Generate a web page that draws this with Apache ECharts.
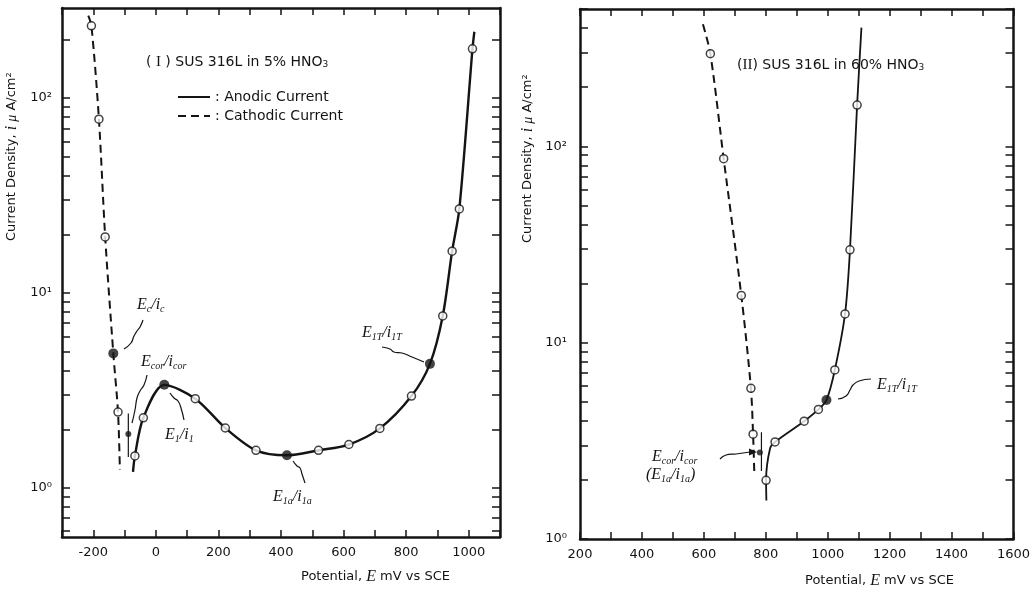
<!DOCTYPE html>
<html>
<head>
<meta charset="utf-8">
<script src="https://cdn.jsdelivr.net/npm/echarts@6/dist/echarts.min.js"></script>
<style>
  html, body { margin: 0; padding: 0; background: #fff; }
  #main { width: 1033px; height: 596px; }
</style>
</head>
<body>
<div id="main"></div>
<script>
// (I) SUS 316L in 5% HNO3  -- potential mV vs SCE, current density uA/cm2
const cathI_E = [-216, -206, -182, -162, -136, -121, -115];
const cathI_i = [265, 235, 78, 19.4, 4.9, 2.45, 1.24];
const cathI_mark = ['', 'o', 'o', 'o', '●', 'o', ''];

const anodI_E = [-73, -67, -40, 27, 126, 222, 320, 419, 520, 617, 716, 817, 876, 917, 947, 970, 1012, 1018];
const anodI_i = [1.21, 1.46, 2.29, 3.38, 2.87, 2.03, 1.56, 1.47, 1.56, 1.67, 2.02, 2.96, 4.33, 7.63, 16.4, 27, 179, 219];
const anodI_mark = ['', 'o', 'o', '●', 'o', 'o', 'o', '●', 'o', 'o', 'o', 'o', '●', 'o', 'o', 'o', 'o', ''];

const corI_E = [-88, -88];
const corI_i = [1.44, 2.41];
const corI_point = [-88, 1.89];

// (II) SUS 316L in 60% HNO3
const cathII_E = [597, 621, 664, 721, 752, 759, 763];
const cathII_i = [418, 296, 86.5, 17.4, 5.85, 3.42, 2.16];
const cathII_mark = ['', 'o', 'o', 'o', 'o', 'o', ''];

const anodII_E = [802, 801, 814, 830, 924, 970, 996, 1023, 1056, 1072, 1095, 1109];
const anodII_i = [1.57, 1.99, 2.9, 3.12, 3.98, 4.57, 5.10, 7.26, 14.0, 29.7, 162, 402];
const anodII_mark = ['', 'o', '', 'o', 'o', 'o', '●', 'o', 'o', 'o', 'o', ''];

const corII_E = [786, 786];
const corII_i = [2.22, 3.5];
const corII_point = [781, 2.76];

// axis ticks
const xLabelsI = [-200, 0, 200, 400, 600, 800, 1000];
const xLabelsII = [200, 400, 600, 800, 1000, 1200, 1400, 1600];
const yLabels = [1, 10, 100];
const yTicksI = [0.6, 0.7, 0.8, 0.9, 1, 2, 3, 4, 5, 6, 7, 8, 9, 10, 20, 30, 40, 50, 60, 70, 80, 90, 100, 200];
const yTicksII = [1, 2, 3, 4, 5, 6, 7, 8, 9, 10, 20, 30, 40, 50, 60, 70, 80, 90, 100, 200, 300, 400, 500];

const INK = '#141414';
const SANS = 'DejaVu Sans';
const SERIF = 'Liberation Serif';

const pts = (E, I) => E.map((e, k) => [e, I[k]]);
const pick = (E, I, M, kind) => pts(E, I).filter((_, k) => M[k] === kind);

const supLabel = v => ({ 0: '10⁰', 1: '10¹', 2: '10²' })[Math.round(Math.log10(v))];

function xAxes(grid, min, max, labels) {
  const base = {
    gridIndex: grid, type: 'value', min: min, max: max, interval: 100,
    splitLine: { show: false },
    axisLine: { show: true, onZero: false, lineStyle: { color: INK, width: 2.5 } },
    axisTick: { show: true, inside: true, length: 7, lineStyle: { color: INK, width: 1.5 } }
  };
  return [
    Object.assign({}, base, {
      position: 'bottom',
      axisLabel: { customValues: labels, formatter: v => String(v), color: INK, fontFamily: SANS, fontSize: 13, margin: 9 }
    }),
    Object.assign({}, base, { position: 'top', axisLabel: { show: false } })
  ];
}

function yAxes(grid, min, max, ticks, margin) {
  const base = {
    gridIndex: grid, type: 'log', logBase: 10, min: min, max: max,
    splitLine: { show: false }, minorTick: { show: false },
    axisLine: { show: true, onZero: false, lineStyle: { color: INK, width: 2.5 } },
    axisTick: { show: true, inside: true, length: 8, customValues: ticks, lineStyle: { color: INK, width: 1.5 } }
  };
  return [
    Object.assign({}, base, {
      position: 'left',
      axisLabel: { customValues: yLabels, formatter: supLabel, color: INK, fontFamily: SANS, fontSize: 13, margin: margin }
    }),
    Object.assign({}, base, { position: 'right', axisLabel: { show: false } })
  ];
}

function curve(name, data, xi, yi, dashed, width) {
  return {
    name: name, type: 'line', data: data, xAxisIndex: xi, yAxisIndex: yi,
    symbol: 'none', smooth: 0.3, z: 3, silent: true, color: INK,
    lineStyle: { color: INK, width: width, type: dashed ? [8, 5] : 'solid' }
  };
}

function marks(data, xi, yi, filled, size) {
  return {
    type: 'scatter', data: data, xAxisIndex: xi, yAxisIndex: yi,
    symbol: 'circle', symbolSize: size, z: 6, silent: true,
    itemStyle: filled ? { color: INK } : { color: '#fff', borderColor: INK, borderWidth: 1.5 }
  };
}

// annotation text helpers
const annRich = {
  E: { fontFamily: SERIF, fontStyle: 'italic', fontSize: 16, fill: INK, lineHeight: 18 },
  s: { fontFamily: SERIF, fontStyle: 'italic', fontSize: 10, fill: INK, verticalAlign: 'bottom', lineHeight: 10 }
};
function ann(x, y, text) {
  return { type: 'text', x: x, y: y, z: 20, style: { text: text, rich: annRich, align: 'left', verticalAlign: 'middle' } };
}
function leader(points) {
  return { type: 'polyline', z: 20, shape: { points: points, smooth: 0.5 }, style: { stroke: INK, lineWidth: 1.2, fill: null } };
}
function plain(x, y, text, extra) {
  return Object.assign({
    type: 'text', x: x, y: y, z: 20,
    style: {
      text: text, fontFamily: SANS, fontSize: 13, fill: INK, align: 'left', verticalAlign: 'middle',
      rich: {
        n: { fontFamily: SANS, fontSize: 14, fill: INK },
        r: { fontFamily: SERIF, fontSize: 15, fill: INK },
        sub: { fontFamily: SANS, fontSize: 9, fill: INK, verticalAlign: 'bottom', lineHeight: 9 },
        it: { fontFamily: SERIF, fontStyle: 'italic', fontSize: 16, fill: INK },
        g: { fontFamily: SERIF, fontStyle: 'italic', fontSize: 14, fill: INK },
        t: { fontFamily: SANS, fontSize: 13, fill: INK }
      }
    }
  }, extra || {});
}

const chart = echarts.init(document.getElementById('main'));

const option = {
  animation: false,
  backgroundColor: '#fff',
  grid: [
    { left: 62, top: 8, width: 438, height: 529 },
    { left: 580, top: 9, width: 435, height: 530 }
  ],
  xAxis: xAxes(0, -300, 1100, xLabelsI).concat(xAxes(1, 200, 1600, xLabelsII)),
  yAxis: yAxes(0, 0.56, 290, yTicksI, 10).concat(yAxes(1, 1, 500, yTicksII, 13)),
  legend: {
    data: ['Anodic Current', 'Cathodic Current'],
    orient: 'vertical', left: 172, top: 85,
    itemWidth: 32, itemHeight: 14, itemGap: 5, selectedMode: false,
    formatter: ': {name}',
    itemStyle: { opacity: 0 },
    textStyle: { fontFamily: SANS, fontSize: 14, color: INK }
  },
  series: [
    curve('Cathodic Current', pts(cathI_E, cathI_i), 0, 0, true, 2),
    curve('Anodic Current', pts(anodI_E, anodI_i), 0, 0, false, 2.4),
    curve('Ecor I', pts(corI_E, corI_i), 0, 0, false, 1.2),
    marks(pick(cathI_E, cathI_i, cathI_mark, 'o').concat(pick(anodI_E, anodI_i, anodI_mark, 'o')), 0, 0, false, 8),
    marks(pick(cathI_E, cathI_i, cathI_mark, '●').concat(pick(anodI_E, anodI_i, anodI_mark, '●')), 0, 0, true, 10),
    marks([corI_point], 0, 0, true, 6),

    curve('Cathodic II', pts(cathII_E, cathII_i), 2, 2, true, 2),
    curve('Anodic II', pts(anodII_E, anodII_i), 2, 2, false, 1.8),
    curve('Ecor II', pts(corII_E, corII_i), 2, 2, false, 1.2),
    marks(pick(cathII_E, cathII_i, cathII_mark, 'o').concat(pick(anodII_E, anodII_i, anodII_mark, 'o')), 2, 2, false, 8),
    marks(pick(anodII_E, anodII_i, anodII_mark, '●'), 2, 2, true, 10),
    marks([corII_point], 2, 2, true, 6)
  ],
  graphic: [
    // panel titles
    plain(146, 62, '{n|( }{r|I}{n| ) SUS 316L in 5% HNO}{sub|3}'),
    plain(737, 65, '{n|(}{r|II}{n|) SUS 316L in 60% HNO}{sub|3}'),
    // axis names
    plain(301, 577, '{t|Potential, }{it|E}{t| mV vs SCE}', { style: undefined }),
    plain(805, 581, '{t|Potential, }{it|E}{t| mV vs SCE}'),
    plain(12, 241, '{t|Current Density, }{it|i}{t| }{g|μ}{t| A/cm²}', { rotation: Math.PI / 2 }),
    plain(528, 243, '{t|Current Density, }{it|i}{t| }{g|μ}{t| A/cm²}', { rotation: Math.PI / 2 }),

    // panel I annotations
    ann(137, 305, '{E|E}{s|c}{E|/i}{s|c}'),
    leader([[124, 349], [131, 343], [134, 336], [137, 331], [140, 327], [143, 320]]),
    ann(141, 362, '{E|E}{s|cor}{E|/i}{s|cor}'),
    leader([[147, 375], [144, 385], [140, 391], [137, 398], [135, 410], [132, 423]]),
    ann(165, 435, '{E|E}{s|1}{E|/i}{s|1}'),
    leader([[170, 393], [174, 398], [178, 401], [181, 408], [184, 420]]),
    ann(273, 497, '{E|E}{s|1a}{E|/i}{s|1a}'),
    leader([[293, 461], [297, 466], [300, 468], [302, 474], [305, 483]]),
    ann(362, 333, '{E|E}{s|1T}{E|/i}{s|1T}'),
    leader([[382, 347], [390, 349], [394, 352], [402, 353], [412, 357], [424, 362]]),

    // panel II annotations
    ann(877, 385, '{E|E}{s|1T}{E|/i}{s|1T}'),
    leader([[838, 399], [846, 396], [850, 390], [853, 385], [859, 381], [871, 379]]),
    ann(652, 457, '{E|E}{s|cor}{E|/i}{s|cor}'),
    ann(646, 475, '{E|(E}{s|1a}{E|/i}{s|1a}{E|)}'),
    leader([[720, 459], [726, 455], [736, 454], [750, 452]]),
    { type: 'polygon', z: 20, shape: { points: [[757, 452], [749, 448.5], [749, 455.5]] }, style: { fill: INK } }
  ]
};

// axis-name graphic for panel I uses the default style from plain()
option.graphic[2] = plain(301, 577, '{t|Potential, }{it|E}{t| mV vs SCE}');

chart.setOption(option);
</script>
</body>
</html>
